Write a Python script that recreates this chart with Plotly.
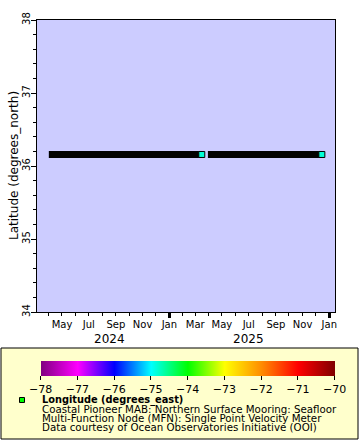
import plotly.graph_objects as go

# ---- data ----
seg_start = ["2024-04-01", "2025-03-30"]
seg_end = ["2025-03-16", "2025-12-15"]
seg_lat = [36.158, 36.158]
seg_lon = [-74.84, -74.84]

month_ticks = ["2024-04-01", "2024-05-01", "2024-06-01", "2024-07-01", "2024-08-01",
               "2024-09-01", "2024-10-01", "2024-11-01", "2024-12-01", "2025-01-01",
               "2025-02-01", "2025-03-01", "2025-04-01", "2025-05-01", "2025-06-01",
               "2025-07-01", "2025-08-01", "2025-09-01", "2025-10-01", "2025-11-01",
               "2025-12-01", "2026-01-01"]
month_labels = ["", "May", "", "Jul", "", "Sep", "", "Nov", "", "Jan", "", "Mar", "",
                "May", "", "Jul", "", "Sep", "", "Nov", "", "Jan"]
year_ticks = ["2025-01-01", "2026-01-01"]
year_labels = ["2024", "2025"]
year_label_pos = ["2024-08-18", "2025-07-01"]
x_range = ["2024-03-05", "2026-01-14"]
y_range = [34, 38]
y_title = "Latitude (degrees_north)"
cbar_min, cbar_max = -78, -70
cbar_ticks = [-78, -77, -76, -75, -74, -73, -72, -71, -70]
legend_lines = ["<b>Longitude (degrees_east)</b>",
                "Coastal Pioneer MAB: Northern Surface Mooring: Seafloor",
                "Multi-Function Node (MFN): Single Point Velocity Meter",
                "Data courtesy of Ocean Observatories Initiative (OOI)"]

# ---- geometry helpers (pixels -> paper) ----
W, H = 360, 440
ML, MR, MT, MB = 37, 25, 20, 128
PW, PH = W - ML - MR, H - MT - MB


def px(X):
    return (X - ML) / PW


def py(Y):
    return (H - MB - Y) / PH


FONT = "DejaVu Sans"
colorscale = [[0.0, "#800080"], [0.125, "#ff00ff"], [0.25, "#0000ff"],
              [0.375, "#00ffff"], [0.5, "#00ff00"], [0.625, "#ffff00"],
              [0.75, "#ff8c00"], [0.875, "#ff0000"], [1.0, "#800000"]]

line_x, line_y = [], []
for s, e, la in zip(seg_start, seg_end, seg_lat):
    line_x += [s, e, None]
    line_y += [la, la, None]

fig = go.Figure()
fig.add_trace(go.Scatter(x=line_x, y=line_y, mode="lines",
                         line=dict(color="black", width=7), hoverinfo="skip",
                         showlegend=False))
fig.add_trace(go.Scatter(
    x=seg_end, y=seg_lat, mode="markers", showlegend=False,
    marker=dict(symbol="square", size=6, color=seg_lon, colorscale=colorscale,
                cmin=cbar_min, cmax=cbar_max, line=dict(color="black", width=1),
                colorbar=dict(orientation="h", xref="container", yref="container",
                              x=49 / W, xanchor="left", y=(H - 361) / H, yanchor="top",
                              lenmode="pixels", len=294, thicknessmode="pixels",
                              thickness=15, outlinewidth=0, xpad=0, ypad=0,
                              tickvals=cbar_ticks, ticks="outside", ticklen=4,
                              tickcolor="black", ticklabeloverflow="allow",
                              tickfont=dict(family=FONT, size=11, color="black")))))
fig.add_trace(go.Scatter(x=year_ticks, y=[None, None], xaxis="x2", mode="markers",
                         showlegend=False, hoverinfo="skip"))

fig.update_layout(
    width=W, height=H, margin=dict(l=ML, r=MR, t=MT, b=MB, autoexpand=False),
    paper_bgcolor="white", plot_bgcolor="#ccccff",
    font=dict(family=FONT, size=10, color="black"),
    xaxis=dict(type="date", range=x_range, tickvals=month_ticks, ticktext=month_labels,
               ticks="outside", ticklen=3, tickwidth=1, tickcolor="black",
               showgrid=False, zeroline=False, showline=True, linecolor="black",
               linewidth=1, mirror=True, tickfont=dict(size=10), automargin=False),
    xaxis2=dict(type="date", range=x_range, overlaying="x", anchor="y", side="bottom",
                tickvals=year_ticks, showticklabels=False, ticks="outside",
                ticklen=5, tickwidth=3, tickcolor="black", showgrid=False,
                zeroline=False, showline=False, automargin=False),
    yaxis=dict(range=y_range, tickvals=[34, 35, 36, 37, 38], ticks="outside",
               ticklen=5, tickcolor="black", tickangle=-90, automargin=False,
               ticklabelstandoff=-3,
               minor=dict(dtick=0.2, ticks="outside", ticklen=3, tickcolor="black",
                          showgrid=False),
               showgrid=False, zeroline=False, showline=True, linecolor="black",
               linewidth=1, mirror=True, tickfont=dict(size=10)),
)

shapes = [dict(type="rect", xref="paper", yref="paper", x0=px(1), x1=px(358),
               y0=py(348), y1=py(439), fillcolor="#ffffcc",
               line=dict(color="black", width=1), layer="below"),
          dict(type="rect", xref="paper", yref="paper", x0=px(19.5), x1=px(24.5),
               y0=py(397.5), y1=py(402.5), fillcolor="#00ff00",
               line=dict(color="black", width=1))]
fig.update_layout(shapes=shapes)

ann = [dict(x=px(14), xref="paper", y=0.5, yref="paper", text=y_title,
            textangle=-90, showarrow=False, font=dict(size=12), xanchor="center",
            yanchor="middle")]
for lab, pos in zip(year_labels, year_label_pos):
    ann.append(dict(x=pos, xref="x", y=py(339), yref="paper", text=lab,
                    showarrow=False, font=dict(size=12), xanchor="center",
                    yanchor="middle"))
for i, t in enumerate(legend_lines):
    ann.append(dict(x=px(43), xref="paper", y=py(400 + 9 * i), yref="paper", text=t,
                    showarrow=False, font=dict(size=9.8 if i == 0 else 10.25),
                    xanchor="left", yanchor="middle", xshift=-2, borderpad=0))
fig.update_layout(annotations=ann)

fig.write_html("out.html", config={"displayModeBar": False},
               post_script="document.body.style.margin='0px';"
                           "document.body.style.overflow='hidden';")
